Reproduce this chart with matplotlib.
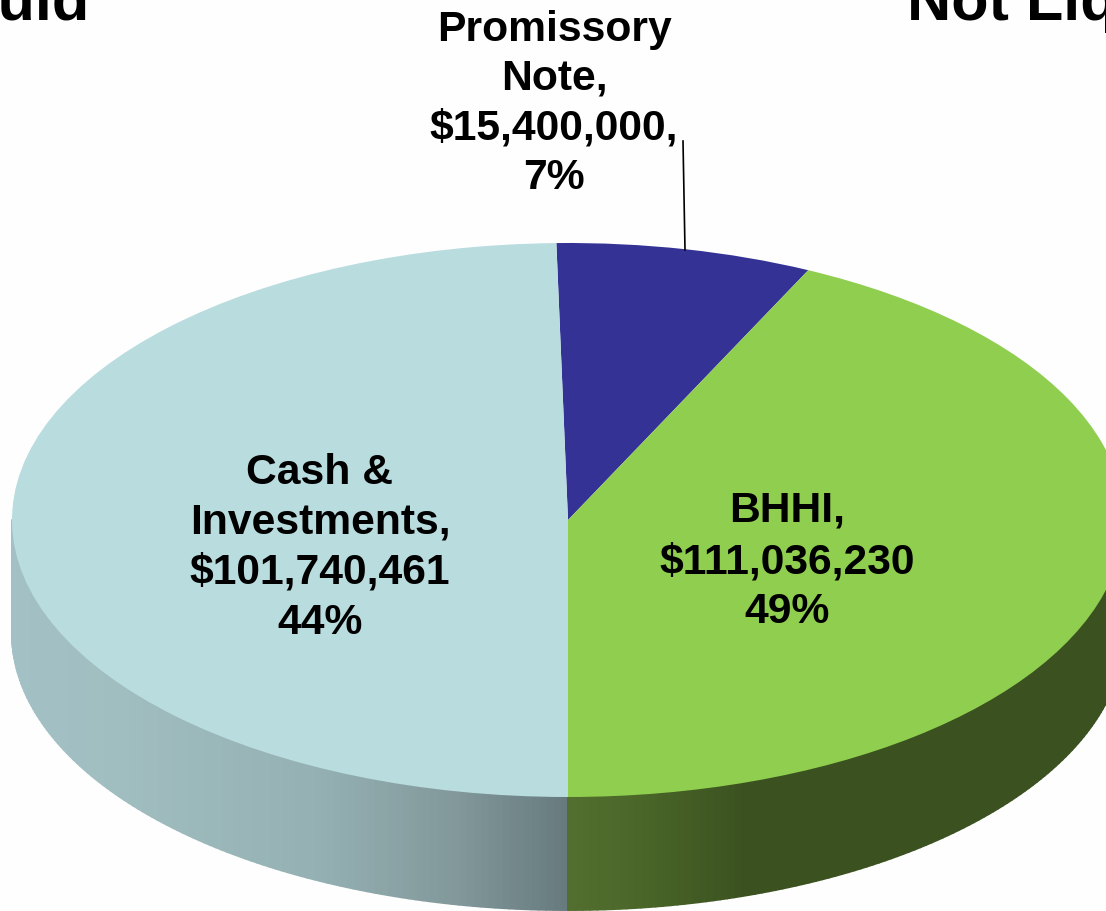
import numpy as np
import matplotlib
matplotlib.use("Agg")
import matplotlib.pyplot as plt
from matplotlib.collections import PolyCollection
from matplotlib.colors import to_rgb

# slice values as printed on the chart
names = ["Promissory\nNote,", "BHHI,", "Cash &\nInvestments,"]
dollars = ["$15,400,000,", "$111,036,230", "$101,740,461"]
percents = ["7%", "49%", "44%"]
# sweep of each slice as it appears on the tilted pie (degrees)
sweeps = [26.8, 154.4, 178.8]
colors = ["#353295", "#8fce4e", "#b9dcdf"]

W, H = 1106, 911
cx, cy, rx, ry = 568, 520, 556, 277
depth = 113 / ry

plt.rcParams["font.family"] = ["Liberation Sans", "DejaVu Sans"]
plt.rcParams["font.weight"] = "bold"

fig = plt.figure(figsize=(W / 100, H / 100), dpi=100, facecolor="#fefefe")
ax = fig.add_axes([(cx - rx) / W, 1 - (cy + ry) / H, 2 * rx / W, 2 * ry / H])
ax.axis("off")


# side wall, shaded left to right in thin strips
def wall(t_from, t_to, xs, cols):
    t = np.radians(np.linspace(t_from, t_to, 120))
    x, y = np.sin(t), np.cos(t)
    rgb = np.array([to_rgb(c) for c in cols])
    polys, faces = [], []
    for i in range(len(t) - 1):
        polys.append([(x[i], y[i]), (x[i + 1], y[i + 1]),
                      (x[i + 1], y[i + 1] - depth), (x[i], y[i] - depth)])
        px = cx + rx * (x[i] + x[i + 1]) / 2
        faces.append([np.interp(px, xs, rgb[:, k]) for k in range(3)])
    ax.add_collection(PolyCollection(polys, facecolors=faces, edgecolors=faces,
                                     linewidths=1.4, clip_on=False))


wedges, _ = ax.pie(sweeps, colors=colors, startangle=91.2, counterclock=False,
                   radius=1, center=(0, 0), wedgeprops={"linewidth": 0})
for w in wedges:
    w.set_clip_on(False)
    w.set_zorder(3)
wall(180, 270, [12, 120, 320, 450, 568], ["#a3c1c5", "#a0bdc0", "#94b0b3", "#83999b", "#667a7e"])
wall(90, 180, [568, 640, 745, 1106], ["#527030", "#4a6628", "#3b5220", "#3b5220"])
ax.set_aspect("auto")
ax.set_xlim(-1, 1)
ax.set_ylim(-1, 1)


def label(x, y, s, size=30.7, **kw):
    fig.text(x / W, 1 - y / H, s, fontsize=size, fontweight="bold", color="black",
             ha=kw.pop("ha", "center"), va=kw.pop("va", "center"), linespacing=1.0, **kw)


# label positions in pixels, one text per line to hold the line pitch
positions = [(554, [30, 79, 128, 178]), (787, [511, 562, 612]), (320, [473, 523, 573, 623])]
for i, (x, ys) in enumerate(positions):
    lines = names[i].split("\n") + [dollars[i], percents[i]]
    for y, s in zip(ys, lines):
        label(x, y, s)

fig.add_artist(plt.Line2D([683 / W, 685 / W], [1 - 141 / H, 1 - 250 / H], color="black", linewidth=1.2))

# headings cut off by the slide crop
label(90, 20, "Liquid", size=44, ha="right", va="baseline")
label(907, 20, "Not Liquid", size=44, ha="left", va="baseline")

fig.savefig("out.png", dpi=100, facecolor=fig.get_facecolor())
